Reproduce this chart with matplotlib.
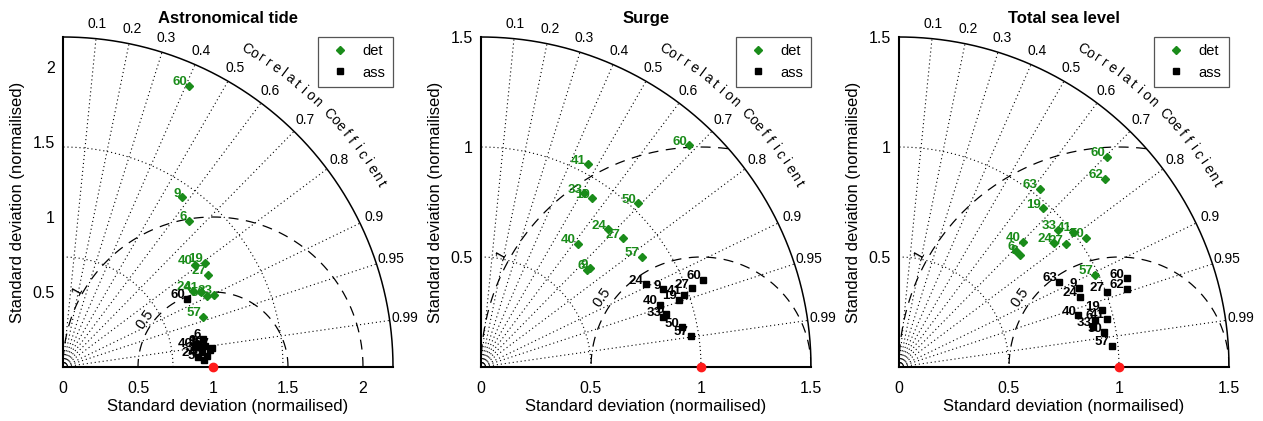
import numpy as np
import matplotlib.pyplot as plt
from matplotlib.lines import Line2D

plt.rcParams['font.family'] = ['Liberation Sans', 'DejaVu Sans']

# station numbers
stations_a = [6, 9, 19, 24, 27, 33, 40, 41, 50, 57, 60]
stations_b = [6, 9, 19, 24, 27, 33, 40, 41, 50, 57, 60, 62, 63]

# Astronomical tide: normalised std and correlation
tide_det_std = [1.288, 1.383, 1.172, 1.008, 1.146, 1.118, 1.112, 1.047, 1.069, 0.991, 2.055]
tide_det_cor = [0.652, 0.576, 0.806, 0.863, 0.844, 0.903, 0.790, 0.879, 0.898, 0.942, 0.409]
tide_ass_std = [0.949, 0.912, 0.960, 0.903, 0.987, 0.935, 0.890, 0.963, 0.941, 0.998, 0.943]
tide_ass_cor = [0.980, 0.987, 0.989, 0.997, 0.993, 0.994, 0.989, 0.997, 0.9986, 0.992, 0.877]

# Surge
surge_det_std = [0.652, 0.668, 0.918, 0.853, 0.870, 0.919, 0.711, 1.041, 1.032, 0.886, 1.382]
surge_det_cor = [0.736, 0.741, 0.550, 0.679, 0.740, 0.511, 0.618, 0.466, 0.693, 0.824, 0.685]
surge_ass_std = [0.874, 0.901, 0.950, 0.837, 1.022, 0.860, 0.861, 0.980, 0.930, 0.964, 1.085]
surge_ass_cor = [0.961, 0.920, 0.947, 0.894, 0.937, 0.964, 0.945, 0.942, 0.981, 0.989, 0.931]

# Total sea level
total_det_std = [0.750, 0.750, 0.973, 0.904, 0.941, 0.955, 0.801, 1.002, 1.033, 0.985, 1.346, 1.269, 1.032]
total_det_cor = [0.712, 0.732, 0.671, 0.781, 0.806, 0.758, 0.704, 0.791, 0.823, 0.905, 0.704, 0.738, 0.620]
total_ass_std = [0.917, 0.895, 0.956, 0.882, 1.004, 0.902, 0.848, 0.969, 0.946, 0.972, 1.110, 1.094, 0.824]
total_ass_cor = [0.972, 0.915, 0.963, 0.932, 0.940, 0.979, 0.961, 0.974, 0.986, 0.995, 0.932, 0.946, 0.883]

cor_ticks = [0.1, 0.2, 0.3, 0.4, 0.5, 0.6, 0.7, 0.8, 0.9, 0.95, 0.99]
rms_levels = [0.5, 1.0]

GREEN = '#1a8c1a'
DOT = (1, 2.6)


def taylor(ax, title, rmax, xticks, yticks, stations, det_std, det_cor, ass_std, ass_cor):
    ax.set_xlim(0, rmax)
    ax.set_ylim(0, rmax)
    ax.set_aspect('equal')
    for s in ['top', 'right']:
        ax.spines[s].set_visible(False)
    for s in ['left', 'bottom']:
        ax.spines[s].set_linewidth(1.5)
    ax.tick_params(length=0, labelsize=11.5)
    ax.tick_params(axis='x', pad=10)
    ax.tick_params(axis='y', pad=6)
    ax.set_xticks(xticks, [f'{t:g}' for t in xticks])
    ax.set_yticks(yticks, [f'{t:g}' for t in yticks])

    th = np.linspace(0, np.pi / 2, 300)
    # outer arc
    ax.plot(rmax * np.cos(th), rmax * np.sin(th), '-', color='k', lw=1.1, clip_on=False)
    # std arcs
    for k in (1, 2):
        r = k * rmax / 3
        ax.plot(r * np.cos(th), r * np.sin(th), color='k', lw=0.8, dashes=DOT)
    # correlation lines + labels
    for c in cor_ticks:
        a = np.arccos(c)
        ax.plot([0, rmax * np.cos(a)], [0, rmax * np.sin(a)], color='k', lw=0.8, dashes=DOT)
        ax.text(1.046 * rmax * np.cos(a), 1.046 * rmax * np.sin(a), f'{c:g}',
                ha='center', va='center', fontsize=10, clip_on=False)
    # Correlation Coefficient, curved
    word = 'Correlation Coefficient'
    angs = np.linspace(60, 30, len(word))
    for ch, a in zip(word, angs):
        ar = np.radians(a)
        ax.text(1.112 * rmax * np.cos(ar), 1.112 * rmax * np.sin(ar), ch,
                rotation=a - 90, ha='center', va='center', fontsize=10, clip_on=False)
    # rms circles around reference
    tt = np.linspace(0, np.pi, 600)
    for rr in rms_levels:
        x = 1 + rr * np.cos(tt)
        y = rr * np.sin(tt)
        bad = (x ** 2 + y ** 2 > rmax ** 2) | (x < 0)
        x[bad] = np.nan
        y[bad] = np.nan
        ax.plot(x, y, color='k', lw=0.9, dashes=(8, 6))
    for rr, ang, rp in [(0.5, 145, 0.55), (1.0, 150.5, 1.04)]:
        a = np.radians(ang)
        ax.text(1 + rp * np.cos(a), rp * np.sin(a), f'{rr:g}', rotation=ang - 90,
                ha='center', va='center', fontsize=10.5)

    z = 10
    for st, s, c in zip(stations, det_std, det_cor):
        x, y = s * c, s * np.sqrt(1 - c ** 2)
        ax.plot(x, y, 'D', color=GREEN, ms=4, zorder=z)
        ax.annotate(str(st), (x, y), xytext=(-1.5, 0.5), textcoords='offset points',
                    ha='right', va='baseline', fontsize=9.5, fontweight='bold', color=GREEN, zorder=z + 1)
        z += 2
    for st, s, c in zip(stations, ass_std, ass_cor):
        x, y = s * c, s * np.sqrt(1 - c ** 2)
        ax.plot(x, y, 's', color='k', ms=5, zorder=z)
        ax.annotate(str(st), (x, y), xytext=(-1.5, 0.5), textcoords='offset points',
                    ha='right', va='baseline', fontsize=9.5, fontweight='bold', color='k', zorder=z + 1)
        z += 2

    ax.plot(1, 0, 'o', color='#ff1a1a', ms=6, clip_on=False, zorder=200)

    handles = [Line2D([], [], marker='D', color=GREEN, ls='none', ms=4),
               Line2D([], [], marker='s', color='k', ls='none', ms=5)]
    leg = ax.legend(handles, ['det', 'ass'], loc='upper right', bbox_to_anchor=(1, 1),
                    borderaxespad=0, fancybox=False, fontsize=10.5, handlelength=2.0,
                    handletextpad=0.6, borderpad=0.5, labelspacing=0.5, framealpha=1)
    leg.get_frame().set_edgecolor('#555555')
    leg.get_frame().set_linewidth(0.9)
    leg.set_zorder(300)

    ax.text(0.5, 1.055, title, transform=ax.transAxes, ha='center', va='center',
            fontsize=12, fontweight='bold')
    ax.text(0.5, -0.121, 'Standard deviation (normailised)', transform=ax.transAxes,
            ha='center', va='center', fontsize=12)
    ax.text(-0.139, 0.5, 'Standard deviation (normailised)', transform=ax.transAxes,
            ha='center', va='center', rotation=90, fontsize=12)


fig = plt.figure(figsize=(12.63, 4.21), dpi=100)
W, H = 1263, 421
lefts = [63, 481, 899]
axs = [fig.add_axes([l / W, (H - 367) / H, 330 / W, 330 / H]) for l in lefts]

taylor(axs[0], 'Astronomical tide', 2.2, [0, 0.5, 1, 1.5, 2], [0.5, 1, 1.5, 2],
       stations_a, tide_det_std, tide_det_cor, tide_ass_std, tide_ass_cor)
taylor(axs[1], 'Surge', 1.5, [0, 0.5, 1, 1.5], [0.5, 1, 1.5],
       stations_a, surge_det_std, surge_det_cor, surge_ass_std, surge_ass_cor)
taylor(axs[2], 'Total sea level', 1.5, [0, 0.5, 1, 1.5], [0.5, 1, 1.5],
       stations_b, total_det_std, total_det_cor, total_ass_std, total_ass_cor)

fig.savefig('out.png', dpi=100)
